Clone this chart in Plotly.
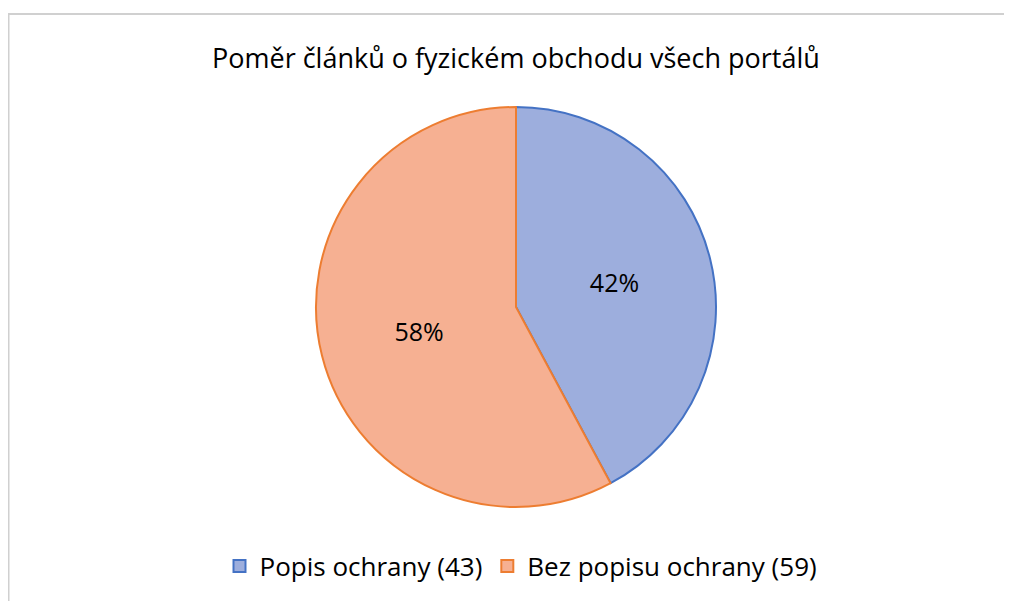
import plotly.graph_objects as go

labels = ["Popis ochrany (43)", "Bez popisu ochrany (59)"]
values = [43, 59]
fill_colors = ["#9DAEDD", "#F6B092"]
line_colors = ["#4472C4", "#ED7D31"]
title_text = "Poměr článků o fyzickém obchodu všech portálů"

W, H = 1012, 601
OFF = 8  # page body margin


def px(x):
    return (x - OFF) / W


def py(y):
    return (H - (y - OFF)) / H


FONT = "Open Sans, Noto Sans, sans-serif"

fig = go.Figure(go.Pie(
    labels=labels,
    values=values,
    sort=False,
    direction="clockwise",
    rotation=0,
    marker=dict(colors=fill_colors, line=dict(color=line_colors, width=2)),
    texttemplate="%{percent:.0%}",
    textposition="inside",
    insidetextorientation="horizontal",
    textfont=dict(family=FONT, size=25, color="#000000"),
    hoverinfo="label+percent",
    domain=dict(x=[px(316), px(716)], y=[py(507), py(107)]),
))

fig.update_layout(
    width=W, height=H,
    margin=dict(l=0, r=0, t=0, b=0),
    paper_bgcolor="white",
    plot_bgcolor="white",
    font=dict(family=FONT, color="#000000"),
    showlegend=True,
    legend=dict(
        orientation="h",
        x=px(521), xanchor="center",
        y=py(566), yanchor="middle",
        font=dict(size=26, color="#000000"),
        traceorder="normal",
    ),
    annotations=[dict(
        text=title_text, x=px(516), y=py(57), xref="paper", yref="paper",
        xanchor="center", yanchor="middle", showarrow=False,
        font=dict(size=27, color="#000000"),
    )],
    shapes=[
        dict(type="line", xref="paper", yref="paper", x0=px(7), x1=1, y0=py(14), y1=py(14),
             line=dict(color="#D0D0D0", width=2)),
        dict(type="line", xref="paper", yref="paper", x0=px(8.5), x1=px(8.5), y0=0, y1=py(14),
             line=dict(color="#D0D0D0", width=2)),
    ],
)

fig.write_html("out.html")
